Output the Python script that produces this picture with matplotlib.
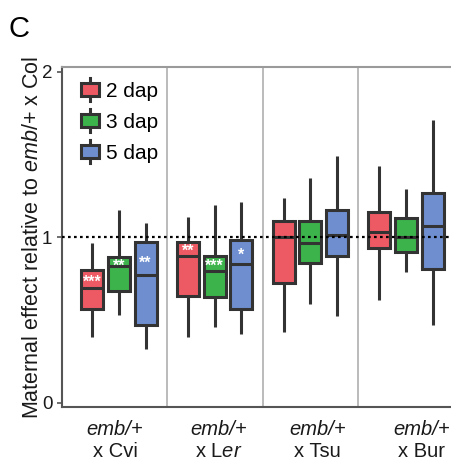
import numpy as np
import matplotlib
matplotlib.use("Agg")
import matplotlib.pyplot as plt
from matplotlib.patches import Rectangle, Patch
from matplotlib.lines import Line2D
from matplotlib.legend_handler import HandlerBase
import matplotlib.transforms as mtransforms

plt.rcParams['font.family'] = ['Liberation Sans', 'DejaVu Sans']
plt.rcParams['mathtext.fontset'] = 'custom'
plt.rcParams['mathtext.rm'] = 'Liberation Sans'
plt.rcParams['mathtext.it'] = 'Liberation Sans:italic'
plt.rcParams['mathtext.bf'] = 'Liberation Sans:bold'

# ---------------- data ----------------
crosses = ["Cvi", "Ler", "Tsu", "Bur"]
label_line1 = ["emb/+", "emb/+", "emb/+", "emb/+"]
label_line2 = ["x Cvi", "x L$\\mathit{er}$", "x Tsu", "x Bur"]
series = ["2 dap", "3 dap", "5 dap"]

low_2dap = [0.396, 0.396, 0.424, 0.618]
q1_2dap = [0.566, 0.642, 0.721, 0.935]
med_2dap = [0.693, 0.889, 1.000, 1.030]
q3_2dap = [0.800, 0.972, 1.095, 1.154]
high_2dap = [0.966, 1.123, 1.234, 1.430]

low_3dap = [0.531, 0.459, 0.598, 0.788]
q1_3dap = [0.677, 0.638, 0.842, 0.911]
med_3dap = [0.824, 0.798, 0.962, 1.000]
q3_3dap = [0.879, 0.889, 1.099, 1.117]
high_3dap = [1.162, 1.194, 1.356, 1.289]

low_5dap = [0.325, 0.416, 0.525, 0.471]
q1_5dap = [0.467, 0.566, 0.889, 0.808]
med_5dap = [0.772, 0.840, 1.016, 1.067]
q3_5dap = [0.970, 0.984, 1.164, 1.269]
high_5dap = [1.087, 1.214, 1.491, 1.707]

stars_2dap = ["***", "**", "", ""]
stars_3dap = ["**", "***", "", ""]
stars_5dap = ["**", "*", "", ""]
star_y_2dap = [0.753, 0.939, None, None]
star_y_3dap = [0.848, 0.846, None, None]
star_y_5dap = [0.866, 0.912, None, None]

reference_value = 1.0
yticks = [0, 1, 2]

# ---------------- style ----------------
colors = ["#EE5A64", "#3CB44B", "#6E8ED0"]
edge = "#333333"
lw = 2.2
dodge = 0.278
box_w = 0.23

stats_all = [
    (low_2dap, q1_2dap, med_2dap, q3_2dap, high_2dap),
    (low_3dap, q1_3dap, med_3dap, q3_3dap, high_3dap),
    (low_5dap, q1_5dap, med_5dap, q3_5dap, high_5dap),
]
stars_all = [stars_2dap, stars_3dap, stars_5dap]
stars_y_all = [star_y_2dap, star_y_3dap, star_y_5dap]

fig = plt.figure(figsize=(4.51, 4.62), dpi=100)
ax = fig.add_axes([62/451, (462-407.3)/462, (463-62)/451, (407.3-66.7)/462])

def px(dx, dy):
    return mtransforms.ScaledTranslation(dx/100, dy/100, fig.dpi_scale_trans)

x = np.arange(len(crosses))
for i, (lo, q1, med, q3, hi) in enumerate(stats_all):
    stats = [dict(whislo=lo[k], q1=q1[k], med=med[k], q3=q3[k], whishi=hi[k], fliers=[])
             for k in range(len(crosses))]
    pos = x + (i - 1) * dodge
    ax.bxp(stats, positions=pos, widths=box_w, patch_artist=True, showcaps=False,
           showfliers=False, manage_ticks=False,
           boxprops=dict(facecolor=colors[i], edgecolor=edge, linewidth=lw),
           whiskerprops=dict(color=edge, linewidth=lw, solid_capstyle='butt'),
           medianprops=dict(color=edge, linewidth=lw, solid_capstyle='butt'))
    for k in range(len(crosses)):
        if stars_all[i][k]:
            ax.text(pos[k], stars_y_all[i][k], stars_all[i][k], color="white",
                    fontsize=11.5, fontweight="bold", ha="center", va="baseline", zorder=5,
                    transform=ax.transData + px(0, -8.5))

ax.axhline(reference_value, color="black", linestyle=(0, (1.2, 1.5)), linewidth=1.6, zorder=6)
for sep in x[:-1] + 0.5:
    ax.axvline(sep, color="#b5b5b5", linewidth=1.3, zorder=0)

ax.set_xlim(-0.596, len(crosses) - 1 + 0.596)
ax.set_ylim(-0.028, 2.030)
ax.set_yticks(yticks)
ax.set_yticklabels([str(t) for t in yticks], fontsize=13.5)
ax.tick_params(axis="y", length=3.5, width=1.2, color="#555555", pad=3.5, labelcolor="#1a1a1a")
ax.set_xticks(x)
ax.set_xticklabels([])
ax.tick_params(axis="x", length=0)

# two-line group labels below the axis
label_shift_px = [-4, 4, 7, 16]
xtrans = mtransforms.blended_transform_factory(ax.transData, ax.transAxes)
for k in range(len(crosses)):
    dx = label_shift_px[k]
    ax.text(x[k], 0, label_line1[k], fontsize=14.5, style="italic", ha="center", va="baseline",
            color="#1a1a1a", transform=xtrans + px(dx, -27.7), clip_on=False)
    ax.text(x[k], 0, label_line2[k], fontsize=14.5, ha="center", va="baseline",
            color="#1a1a1a", transform=xtrans + px(dx, -49.4), clip_on=False)

ax.set_ylabel("Maternal effect relative to $\\mathit{emb/}$+ x Col", fontsize=15.5, labelpad=-1, color="#1a1a1a")

for s in ["left", "bottom"]:
    ax.spines[s].set_color("#555555")
    ax.spines[s].set_linewidth(1.5)
ax.spines["top"].set_color("#9a9a9a")
ax.spines["top"].set_linewidth(1.5)
ax.spines["right"].set_visible(False)


class BoxHandler(HandlerBase):
    def create_artists(self, legend, orig_handle, xdescent, ydescent, width, height, fontsize, trans):
        x0, y0 = -xdescent, -ydescent
        cx = x0 + width / 2
        stub = height * 0.35
        line = Line2D([cx, cx], [y0 - stub, y0 + height + stub], color=edge, lw=lw, transform=trans)
        rect = Rectangle((x0, y0), width, height, facecolor=orig_handle.get_facecolor(),
                         edgecolor=edge, lw=lw, transform=trans)
        return [line, rect]


handles = [Patch(facecolor=c) for c in colors]
ax.legend(handles, series, handler_map={Patch: BoxHandler()}, loc="upper left",
          bbox_to_anchor=(18.7/401, 1 - 15/340.6), borderaxespad=0, borderpad=0,
          frameon=False, fontsize=15, handlelength=0.9, handleheight=0.63,
          handletextpad=0.32, labelspacing=0.58)

fig.text(9/451, 1 - 15/462, "C", fontsize=21, ha="left", va="top")

fig.savefig("out.png", dpi=100)
